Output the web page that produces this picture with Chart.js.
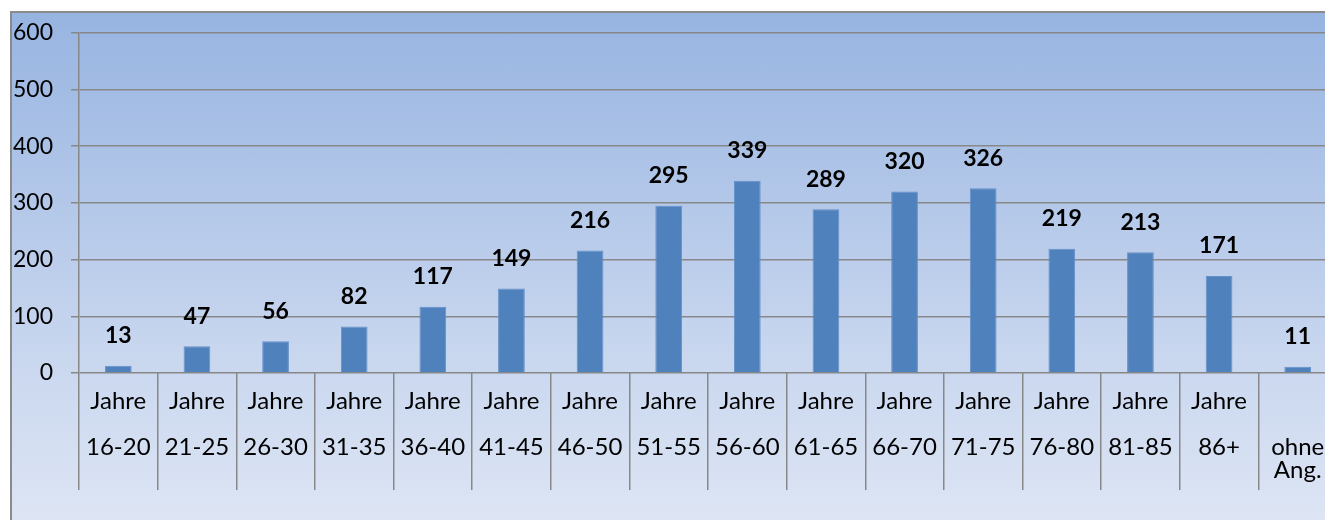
<!DOCTYPE html>
<html>
<head>
<meta charset="utf-8">
<script src="https://cdn.jsdelivr.net/npm/chart.js@4/dist/chart.umd.min.js"></script>
<style>
  html, body { margin: 0; padding: 0; background: #fff; overflow: hidden; }
  #box {
    position: absolute; left: 10px; top: 11px;
    width: 1330px; height: 530px;
    border: 2px solid #8a8a8a;
    background: linear-gradient(to bottom, #97b4e1 0%, #c2d2ed 55%, #e0e7f5 100%);
  }
  canvas { display: block; margin-top: -12px; }
</style>
</head>
<body>
<div id="box"><canvas id="c" width="1330" height="532"></canvas></div>
<script>
// age groups (x categories)
const ageGroups = [
    ['Jahre', '', '16-20'], ['Jahre', '', '21-25'], ['Jahre', '', '26-30'], ['Jahre', '', '31-35'],
    ['Jahre', '', '36-40'], ['Jahre', '', '41-45'], ['Jahre', '', '46-50'], ['Jahre', '', '51-55'],
    ['Jahre', '', '56-60'], ['Jahre', '', '61-65'], ['Jahre', '', '66-70'], ['Jahre', '', '71-75'],
    ['Jahre', '', '76-80'], ['Jahre', '', '81-85'], ['Jahre', '', '86+'], ['', '', 'ohne', 'Ang.']
]
const counts = [13, 47, 56, 82, 117, 149, 216, 295, 339, 289, 320, 326, 219, 213, 171, 11]
const yTicks = [0, 100, 200, 300, 400, 500, 600]

const font = 'Lato'

// value above every bar
const valueLabels = {
    id: 'valueLabels',
    afterDatasetsDraw(chart) {
        const ctx = chart.ctx
        const meta = chart.getDatasetMeta(0)
        ctx.save()
        ctx.font = 'bold 23px ' + font
        ctx.fillStyle = '#000'
        ctx.textAlign = 'center'
        ctx.textBaseline = 'middle'
        meta.data.forEach((bar, i) => {
            ctx.fillText(String(counts[i]), bar.x, bar.y - 30)
        })
        ctx.restore()
    }
}

const ctx = document.getElementById('c')
new Chart(ctx, {
    type: 'bar',
    data: {
        labels: ageGroups,
        datasets: [{
            data: counts,
            backgroundColor: '#4f81bd',
            borderColor: '#6690c8',
            borderWidth: 1,
            barPercentage: 0.34,
            categoryPercentage: 1
        }]
    },
    options: {
        responsive: false,
        animation: false,
        devicePixelRatio: 1,
        layout: { padding: { top: 7, right: 5, left: 0, bottom: 0 } },
        plugins: {
            legend: { display: false },
            tooltip: { enabled: false }
        },
        scales: {
            x: {
                afterFit: s => { s.height = 160 },
                grid: {
                    offset: true,
                    drawOnChartArea: false,
                    drawTicks: true,
                    tickLength: 117,
                    color: '#888',
                    lineWidth: 1.5
                },
                border: { display: false },
                ticks: {
                    padding: -100,
                    color: '#000',
                    font: { family: font, size: 24, lineHeight: '23px' },
                    maxRotation: 0,
                    autoSkip: false
                }
            },
            y: {
                min: yTicks[0],
                max: yTicks[yTicks.length - 1],
                afterFit: s => { s.width = 67 },
                afterBuildTicks: s => { s.ticks = yTicks.map(v => ({ value: v })) },
                grid: { color: '#888', lineWidth: 1.5, tickLength: 8 },
                border: { display: true, color: '#888', width: 1.5 },
                ticks: {
                    padding: 18,
                    color: '#000',
                    font: { family: font, size: 23 }
                }
            }
        }
    },
    plugins: [valueLabels]
})
</script>
</body>
</html>
